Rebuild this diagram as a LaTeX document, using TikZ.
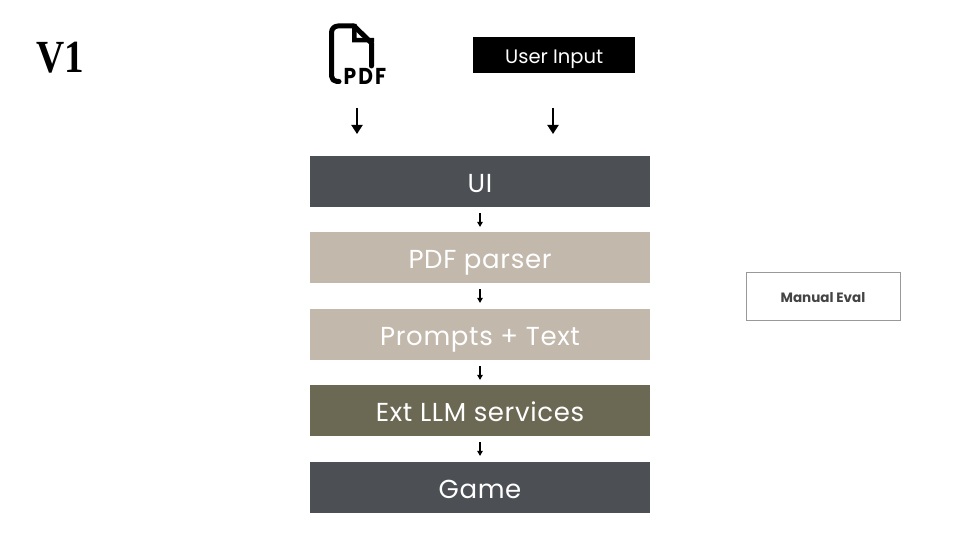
\documentclass[tikz,border=0pt]{standalone}
\usepackage{fontspec}
\setmainfont{Poppins}
\newfontfamily\serifv{Liberation Serif}
\newfontfamily\layerfont[LetterSpace=2.5]{Poppins}
\usetikzlibrary{arrows.meta}
\definecolor{darkbox}{HTML}{4C4F54}
\definecolor{beigebox}{HTML}{C2B8AC}
\definecolor{olivebox}{HTML}{6B6853}
\definecolor{evalgray}{HTML}{999999}
\definecolor{evaltext}{HTML}{444444}
\tikzset{
  layer/.style={minimum width=340pt, minimum height=51pt, inner sep=0pt, text=white,
    font=\layerfont\fontsize{26}{29}\selectfont, text height=22pt, text depth=0pt, anchor=north},
  smallarrow/.style={line width=1.2pt, -{Triangle[length=5pt,width=5.5pt]}},
  bigarrow/.style={line width=2pt, -{Triangle[length=9pt,width=11pt]}},
}
\begin{document}
\begin{tikzpicture}[x=1pt,y=-1pt]
\useasboundingbox (0,0) rectangle (960,540);
\fill[white] (0,0) rectangle (960,540);

% title
\node[anchor=base west, inner sep=0pt, font=\serifv\bfseries\fontsize{46}{48}\selectfont, xscale=0.85] (title) at (36,73) {V1};

% PDF icon
\draw[line width=5pt, line join=round, line cap=round]
  (371.5,66) -- (371.5,43) -- (354,26) -- (338,26) to[out=180,in=90] (331.5,32.5) -- (331.5,76) to[out=270,in=180] (337,81.5) -- (339,81.5);
\fill (352,24) -- (356.5,24) -- (356.5,38) -- (374,38) -- (374,42.5) -- (352,42.5) -- cycle;
\node[anchor=base west, inner sep=0pt, font=\addfontfeature{LetterSpace=10}\bfseries\fontsize{23}{24}\selectfont, xscale=0.88] (pdflbl) at (343.5,84.5) {PDF};

% user input
\node[fill=black, text=white, minimum width=162pt, minimum height=36pt, inner sep=0pt,
  font=\fontsize{19.5}{22}\selectfont, text height=16pt, text depth=0pt, anchor=north west] (user) at (473,37) {User Input};

% layers
\node[layer, fill=darkbox] (ui) at (480,156) {UI};
\node[layer, fill=beigebox] (parser) at (480,232) {PDF parser};
\node[layer, fill=beigebox] (prompts) at (480,309) {Prompts + Text};
\node[layer, fill=olivebox] (llm) at (480,385) {Ext LLM services};
\node[layer, fill=darkbox] (game) at (480,462) {Game};

% manual eval
\node[draw=evalgray, line width=1pt, minimum width=154pt, minimum height=48pt, inner sep=0pt,
  text=evaltext, font=\fontsize{13.5}{15}\selectfont\bfseries, text height=12.5pt, text depth=0pt,
  anchor=north west] (eval) at (745.5,271.5) {Manual Eval};

% big arrows
\coordinate (a1s) at (357,108);
\coordinate (a1e) at (357,134);
\coordinate (a2s) at (553,108);
\coordinate (a2e) at (553,134);
\draw[bigarrow] (a1s) -- (a1e);
\draw[bigarrow] (a2s) -- (a2e);

% small arrows
\draw[smallarrow] ([yshift=-6pt]ui.south) -- ([yshift=-19.5pt]ui.south);
\draw[smallarrow] ([yshift=-6pt]parser.south) -- ([yshift=-19.5pt]parser.south);
\draw[smallarrow] ([yshift=-6pt]prompts.south) -- ([yshift=-19.5pt]prompts.south);
\draw[smallarrow] ([yshift=-6pt]llm.south) -- ([yshift=-19.5pt]llm.south);
\end{tikzpicture}
\end{document}
